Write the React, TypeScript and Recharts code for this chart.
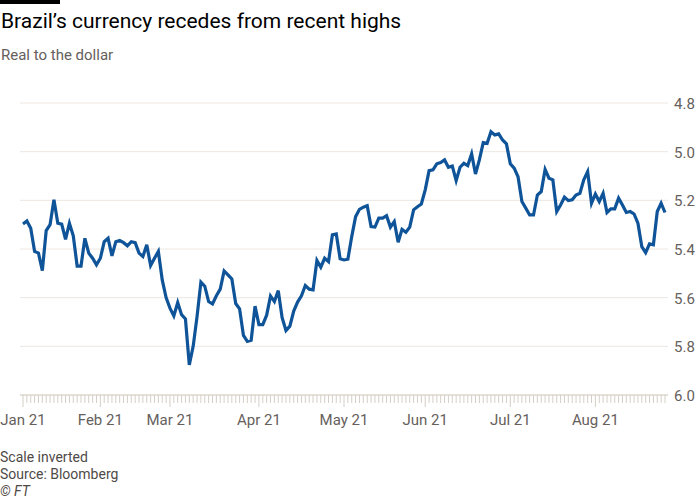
import { LineChart, Line, XAxis, YAxis, CartesianGrid, ReferenceLine } from 'recharts';

// BRL per USD, one value per trading day, Jan 4 to late Aug 2021
const rates = [
  5.297, 5.285, 5.315, 5.41, 5.417, 5.489, 5.324, 5.3, 5.198, 5.294,
  5.298, 5.36, 5.294, 5.346, 5.47, 5.47, 5.356, 5.417, 5.438, 5.465,
  5.438, 5.37, 5.356, 5.428, 5.37, 5.365, 5.374, 5.387, 5.37, 5.374,
  5.417, 5.431, 5.383, 5.468, 5.438, 5.41, 5.527, 5.6, 5.643, 5.675,
  5.62, 5.67, 5.687, 5.876, 5.8, 5.678, 5.536, 5.553, 5.616, 5.626,
  5.592, 5.565, 5.49, 5.506, 5.523, 5.624, 5.646, 5.755, 5.78, 5.775,
  5.635, 5.711, 5.711, 5.672, 5.593, 5.616, 5.571, 5.682, 5.735, 5.717,
  5.655, 5.618, 5.592, 5.55, 5.565, 5.568, 5.447, 5.475, 5.438, 5.452,
  5.342, 5.338, 5.44, 5.445, 5.442, 5.349, 5.267, 5.237, 5.228, 5.222,
  5.308, 5.31, 5.273, 5.273, 5.263, 5.31, 5.287, 5.372, 5.319, 5.331,
  5.31, 5.239, 5.226, 5.215, 5.157, 5.078, 5.075, 5.05, 5.045, 5.034,
  5.064, 5.059, 5.119, 5.064, 5.048, 5.057, 5.009, 5.092, 5.034, 4.963,
  4.966, 4.918, 4.931, 4.927, 4.952, 4.968, 5.05, 5.068, 5.103, 5.205,
  5.232, 5.26, 5.26, 5.178, 5.164, 5.073, 5.109, 5.116, 5.246, 5.219,
  5.187, 5.201, 5.198, 5.178, 5.171, 5.116, 5.082, 5.212, 5.174, 5.205,
  5.171, 5.25, 5.235, 5.235, 5.191, 5.219, 5.25, 5.246, 5.256, 5.294,
  5.39, 5.415, 5.379, 5.383, 5.246, 5.212, 5.25,
];

const monthLabels = ['Jan 21', 'Feb 21', 'Mar 21', 'Apr 21', 'May 21', 'Jun 21', 'Jul 21', 'Aug 21'];
const monthStarts = [0, 20, 38, 61, 83, 104, 126, 148];
const yTicks = [4.8, 5.0, 5.2, 5.4, 5.6, 5.8, 6.0];

const data = rates.map((rate, i) => ({ i, rate }));
const dayTicks = rates.map((_, i) => i);

const FONT = 'Roboto, "Noto Sans", sans-serif';
const GREY = '#66605c';
const TICK = '#d6cec6';

const XTick = (props: any) => {
  const { x, y, payload } = props;
  const m = monthStarts.indexOf(payload.value);
  return (
    <g>
      <line x1={x} x2={x} y1={y} y2={y + (m >= 0 ? 12 : 8)} stroke={TICK} strokeWidth={1} />
      {m >= 0 && (
        <text x={x} y={y + 30} textAnchor="middle" fill={GREY} fontSize={15} fontFamily={FONT}>
          {monthLabels[m]}
        </text>
      )}
    </g>
  );
};

const YTick = (props: any) => {
  const { x, y, payload } = props;
  return (
    <text x={x + 6} y={y + 6} textAnchor="start" fill={GREY} fontSize={15} fontFamily={FONT}>
      {payload.value.toFixed(1)}
    </text>
  );
};

export default function App() {
  return (
    <div style={{ position: 'relative', width: 700, height: 500, background: '#fff', fontFamily: FONT, overflow: 'hidden' }}>
      <style>{`body{margin:0}`}</style>
      <div style={{ position: 'absolute', left: 0, top: 0, width: 60, height: 4, background: '#000' }} />
      <div style={{ position: 'absolute', left: 1, top: 9, fontSize: 21, color: '#000', whiteSpace: 'nowrap' }}>
        Brazil’s currency recedes from recent highs
      </div>
      <div style={{ position: 'absolute', left: 1, top: 46, fontSize: 15, color: GREY, whiteSpace: 'nowrap' }}>
        Real to the dollar
      </div>

      <div style={{ position: 'absolute', left: 0, top: 0 }}>
        <LineChart width={700} height={500} data={data} margin={{ top: 103, right: 0, bottom: 75, left: 20 }}>
          <CartesianGrid vertical={false} stroke="#ece6e0" strokeWidth={1} />
          <XAxis
            dataKey="i"
            type="number"
            domain={[0, rates.length - 1]}
            ticks={dayTicks}
            interval={0}
            padding={{ left: 3, right: 3 }}
            height={30}
            axisLine={false}
            tickLine={false}
            tickSize={0}
            tickMargin={0}
            tick={<XTick />}
          />
          <YAxis
            orientation="right"
            type="number"
            domain={[4.8, 6.0]}
            ticks={yTicks}
            reversed
            width={32}
            axisLine={false}
            tickLine={false}
            tickSize={0}
            tickMargin={0}
            tick={<YTick />}
          />
          <ReferenceLine y={6.0} stroke={TICK} strokeWidth={1} />
          <Line
            type="linear"
            dataKey="rate"
            stroke="#0f5499"
            strokeWidth={3.2}
            dot={false}
            isAnimationActive={false}
          />
        </LineChart>
      </div>

      <div style={{ position: 'absolute', left: 0, top: 449, fontSize: 14, color: '#4f4a46', lineHeight: '17px' }}>
        <div>Scale inverted</div>
        <div>Source: Bloomberg</div>
        <div style={{ fontStyle: 'italic' }}>© FT</div>
      </div>
    </div>
  );
}
